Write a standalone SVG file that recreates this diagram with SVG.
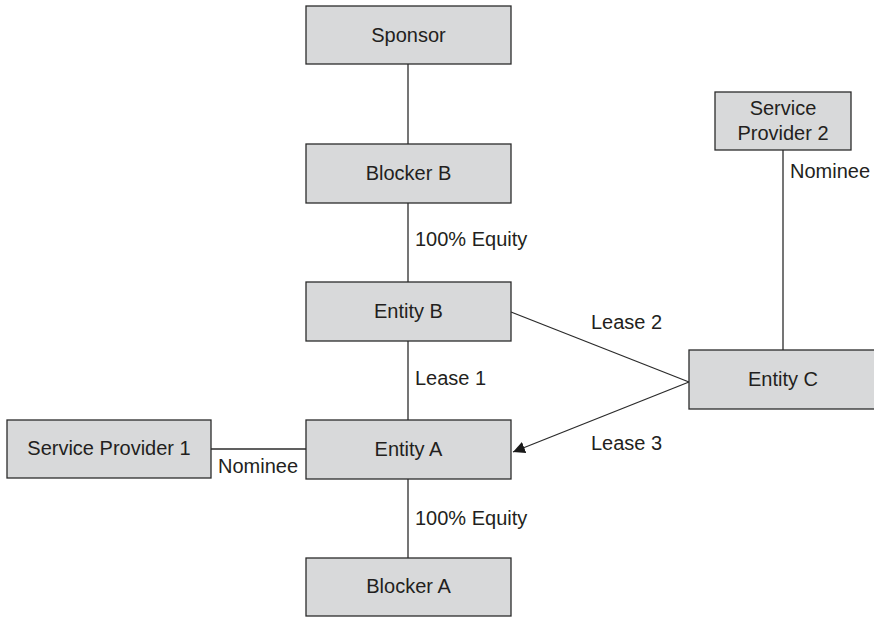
<svg xmlns="http://www.w3.org/2000/svg" width="874" height="617" viewBox="0 0 874 617">
  <style>
    .box { fill: #d8d9da; stroke: #2b2b2b; stroke-width: 1.3; }
    .lbl { font-family: "Liberation Sans", Arial, sans-serif; font-size: 20px; fill: #231f20; }
    .mid { text-anchor: middle; }
    .edge { stroke: #2b2b2b; stroke-width: 1.3; fill: none; }
  </style>
  <defs>
    <marker id="arrow" viewBox="0 0 10 10" refX="10" refY="5" markerWidth="12" markerHeight="12" markerUnits="userSpaceOnUse" orient="auto">
      <path d="M0,0 L10,5 L0,10 Z" fill="#1a1a1a"/>
    </marker>
  </defs>

  <rect width="874" height="617" fill="#ffffff"/>

  <g id="connectors">
    <line class="edge" x1="408" y1="64" x2="408" y2="144"/>
    <line class="edge" x1="408" y1="203" x2="408" y2="282"/>
    <line class="edge" x1="408" y1="341" x2="408" y2="420"/>
    <line class="edge" x1="408" y1="479" x2="408" y2="558"/>
    <line class="edge" x1="211" y1="449" x2="306" y2="449"/>
    <line class="edge" x1="783" y1="150" x2="783" y2="350"/>
    <line class="edge" x1="511" y1="312" x2="689" y2="382"/>
    <line class="edge" x1="689" y1="382" x2="513" y2="452" marker-end="url(#arrow)"/>
    <text class="lbl" x="415" y="246">100% Equity</text>
    <text class="lbl" x="415" y="385">Lease 1</text>
    <text class="lbl" x="415" y="525">100% Equity</text>
    <text class="lbl" x="218" y="473">Nominee</text>
    <text class="lbl" x="790" y="178">Nominee</text>
    <text class="lbl" x="591" y="329">Lease 2</text>
    <text class="lbl" x="591" y="450">Lease 3</text>
  </g>

  <g id="sponsor">
    <rect class="box" x="306" y="6" width="205" height="58"/>
    <text class="lbl mid" x="408.5" y="42">Sponsor</text>
  </g>
  <g id="blocker-b">
    <rect class="box" x="306" y="144" width="205" height="59"/>
    <text class="lbl mid" x="408.5" y="180">Blocker B</text>
  </g>
  <g id="entity-b">
    <rect class="box" x="306" y="282" width="205" height="59"/>
    <text class="lbl mid" x="408.5" y="318">Entity B</text>
  </g>
  <g id="entity-a">
    <rect class="box" x="306" y="420" width="205" height="59"/>
    <text class="lbl mid" x="408.5" y="456">Entity A</text>
  </g>
  <g id="blocker-a">
    <rect class="box" x="306" y="558" width="205" height="58"/>
    <text class="lbl mid" x="408.5" y="593">Blocker A</text>
  </g>
  <g id="service-provider-1">
    <rect class="box" x="7" y="420" width="204" height="58"/>
    <text class="lbl mid" x="109" y="455">Service Provider 1</text>
  </g>
  <g id="service-provider-2">
    <rect class="box" x="715" y="92" width="136" height="58"/>
    <text class="lbl mid" x="783" y="115">Service</text>
    <text class="lbl mid" x="783" y="140">Provider 2</text>
  </g>
  <g id="entity-c">
    <rect class="box" x="689" y="350" width="190" height="59"/>
    <text class="lbl mid" x="783" y="386">Entity C</text>
  </g>
</svg>
